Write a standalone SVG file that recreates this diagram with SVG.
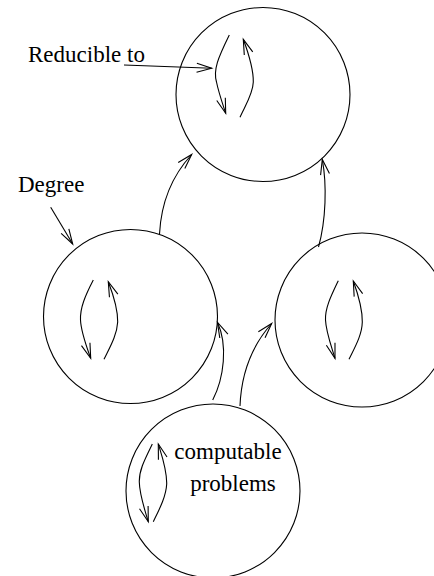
<svg xmlns="http://www.w3.org/2000/svg" width="434" height="576" viewBox="0 0 434 576">
<defs>
<style>
.node circle{fill:none;stroke:#000;stroke-width:1.1}
.arr{fill:none;stroke:#000;stroke-width:1.1;marker-end:url(#ah)}
.lbl{font-family:'Liberation Serif','Times New Roman','DejaVu Serif',serif;font-size:23px;fill:#000}
</style>
<marker id="ah" markerUnits="userSpaceOnUse" markerWidth="20" markerHeight="12" viewBox="-16 -6 18 12" refX="0" refY="0" orient="auto" overflow="visible">
<path d="M-15,-4.5 L0,0 L-15,4.5" fill="none" stroke="#000" stroke-width="1.1"/>
</marker>
</defs>
<rect width="434" height="576" fill="#fff"/>
<g id="node-top" class="node">
<circle cx="263" cy="94.5" r="87"/>
<path class="arr" d="M229.3,35 C218,58 213,70 216.5,82 C218.5,92 222,102 225.7,113.3"/>
<path class="arr" d="M240,117.3 C245,106 253,94 253.3,82 C253.5,68 248,52 243.3,39.3"/>
</g>
<g id="node-left" class="node">
<circle cx="130.5" cy="316.5" r="87"/>
<path class="arr" d="M93.3,280 C85,296 80,308 80.5,320 C81,332 86,345 90.7,358.3"/>
<path class="arr" d="M104,359.3 C110,347 117,335 117.7,322 C118,308 113,294 108.3,281.7"/>
</g>
<g id="node-right" class="node">
<circle cx="362" cy="320" r="87"/>
<path class="arr" d="M338.3,280.7 C331,296 325,308 325.5,320 C326,332 331,345 335,358.3"/>
<path class="arr" d="M349,359.3 C355,347 362,335 362.3,322 C362.5,308 358,294 353.3,281"/>
</g>
<g id="node-bottom" class="node">
<circle cx="213" cy="491" r="87"/>
<path class="arr" d="M152.3,444 C145,459 139,470 139.3,482 C139.5,494 144,508 148.3,521.7"/>
<path class="arr" d="M153.3,521.7 C159,510 166,497 166.7,484 C167,470 162,456 158.3,444"/>
<text class="lbl" x="228" y="459" text-anchor="middle" font-family="Liberation Serif, serif">computable</text>
<text class="lbl" x="233" y="491" text-anchor="middle" font-family="Liberation Serif, serif">problems</text>
</g>
<g id="label-reducible">
<text class="lbl" x="28" y="62" font-family="Liberation Serif, serif">Reducible to</text>
</g>
<g id="label-degree">
<text class="lbl" x="18" y="192" font-family="Liberation Serif, serif">Degree</text>
</g>
<g id="connectors">
<path class="arr" d="M124,65 L211.7,68.3"/>
<path class="arr" d="M50.7,207.3 L72.7,244"/>
<path class="arr" d="M159.5,234 C161,205 170,178 191.7,154.5"/>
<path class="arr" d="M318.5,247 C326,220 327,185 322.3,159.5"/>
<path class="arr" d="M212.7,400 C224,378 228,345 217.5,322.5"/>
<path class="arr" d="M240,406 C241,380 248,350 271.7,323.5"/>
</g>
</svg>
